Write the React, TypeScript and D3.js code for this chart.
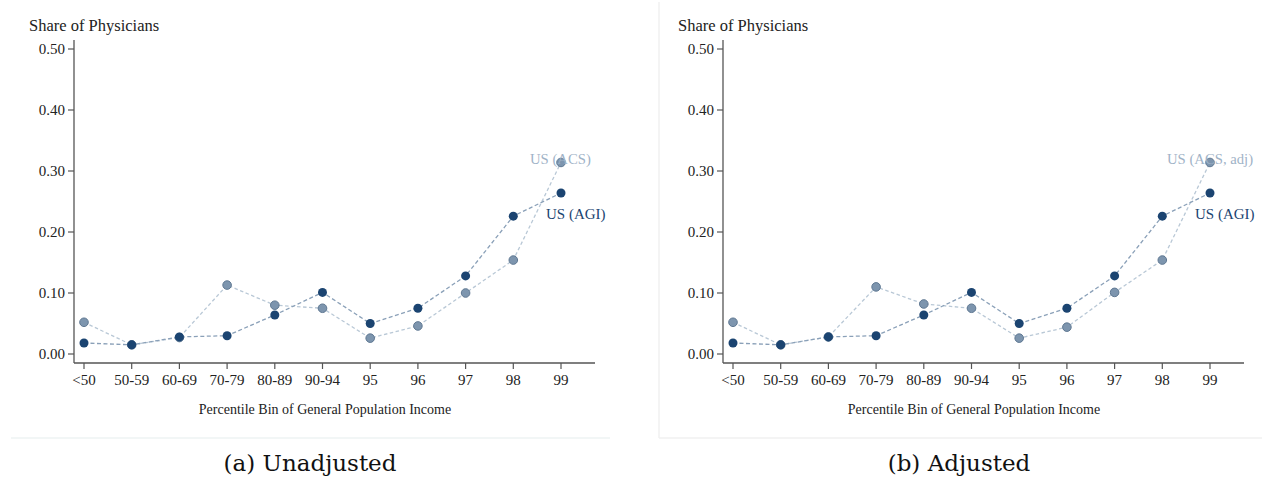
import React from 'react';
import * as d3 from 'd3';

// bins on the x axis
const bins = ['<50', '50-59', '60-69', '70-79', '80-89', '90-94', '95', '96', '97', '98', '99'];

// share of physicians in each bin
const agi = [0.018, 0.015, 0.028, 0.030, 0.064, 0.101, 0.050, 0.075, 0.128, 0.226, 0.264];
const acs = [0.052, 0.015, 0.027, 0.113, 0.080, 0.075, 0.026, 0.046, 0.100, 0.154, 0.314];
const acsAdj = [0.052, 0.015, 0.028, 0.110, 0.082, 0.075, 0.026, 0.044, 0.101, 0.154, 0.314];

const yTicks = [0, 0.1, 0.2, 0.3, 0.4, 0.5];

const font = '"Liberation Serif", serif';
const capFont = '"DejaVu Serif", serif';
const dark = '#1b4471';
const light = '#7d95ae';

function Panel(props: { ox: number; acsVals: number[]; acsLabel: string; labelDx: number; caption: string }) {
  const { ox, acsVals, acsLabel, labelDx, caption } = props;
  const left = 74, top = 40, axisY = 363, right = 595;

  const x = d3.scalePoint<string>().domain(bins).range([84, 561]);
  const y = d3.scaleLinear().domain([0, 0.5]).range([354, 49]);

  const line = d3.line<number>()
    .x((d, i) => x(bins[i]) as number)
    .y(d => y(d));

  const last = bins[bins.length - 1];

  return (
    <g transform={'translate(' + ox + ',0)'}>
      <text x={29} y={31} fontSize={16.5} fontFamily={font} fill="#222">Share of Physicians</text>

      {/* y axis */}
      <line x1={left} x2={left} y1={top} y2={axisY} stroke="#555" strokeWidth={1.3} />
      {yTicks.map(t => (
        <g key={t}>
          <line x1={left - 6} x2={left} y1={y(t)} y2={y(t)} stroke="#555" strokeWidth={1.2} />
          <text x={left - 9} y={y(t)} dy="0.35em" textAnchor="end" fontSize={15} fontFamily={font} fill="#222">
            {d3.format('.2f')(t)}
          </text>
        </g>
      ))}

      {/* x axis */}
      <line x1={left} x2={right} y1={axisY} y2={axisY} stroke="#555" strokeWidth={1.3} />
      {bins.map(b => (
        <g key={b}>
          <line x1={x(b)} x2={x(b)} y1={axisY} y2={axisY + 6} stroke="#555" strokeWidth={1.2} />
          <text x={x(b)} y={385} textAnchor="middle" fontSize={15} fontFamily={font} fill="#222">{b}</text>
        </g>
      ))}
      <text x={325} y={414} textAnchor="middle" fontSize={14} fontFamily={font} fill="#222">
        Percentile Bin of General Population Income
      </text>

      {/* series */}
      <path d={line(acsVals) || ''} fill="none" stroke="#b9c8d6" strokeWidth={1.3} strokeDasharray="3.5,2.5" />
      <path d={line(agi) || ''} fill="none" stroke="#8aa0b8" strokeWidth={1.3} strokeDasharray="4,2.5" />
      {acsVals.map((v, i) => (
        <circle key={'a' + i} cx={x(bins[i])} cy={y(v)} r={4.3} fill={light} stroke="#5f7892" strokeWidth={1} />
      ))}
      {agi.map((v, i) => (
        <circle key={'g' + i} cx={x(bins[i])} cy={y(v)} r={4.5} fill={dark} />
      ))}

      <text x={(x(last) as number) + labelDx} y={164} fontSize={14.7} fontFamily={font} fill="#9fb3c7">{acsLabel}</text>
      <text x={(x(last) as number) - 15} y={219} fontSize={15} fontFamily={font} fill={dark}>US (AGI)</text>

      <text x={310} y={471} textAnchor="middle" fontSize={23} fontFamily={capFont} fill="#111">{caption}</text>
    </g>
  );
}

export default function App() {
  return (
    <svg width={1262} height={485} style={{ position: 'absolute', left: 0, top: 0, background: '#fff' }}>
      <line x1={11} x2={610} y1={438} y2={438} stroke="#eef3f3" strokeWidth={1.5} />
      <line x1={659} x2={659} y1={2} y2={438} stroke="#f0f0f0" strokeWidth={1.5} />
      <line x1={659} x2={1262} y1={438} y2={438} stroke="#f0f0f0" strokeWidth={1.5} />
      <Panel ox={0} acsVals={acs} acsLabel="US (ACS)" labelDx={-31} caption="(a) Unadjusted" />
      <Panel ox={649} acsVals={acsAdj} acsLabel="US (ACS, adj)" labelDx={-43} caption="(b) Adjusted" />
    </svg>
  );
}
